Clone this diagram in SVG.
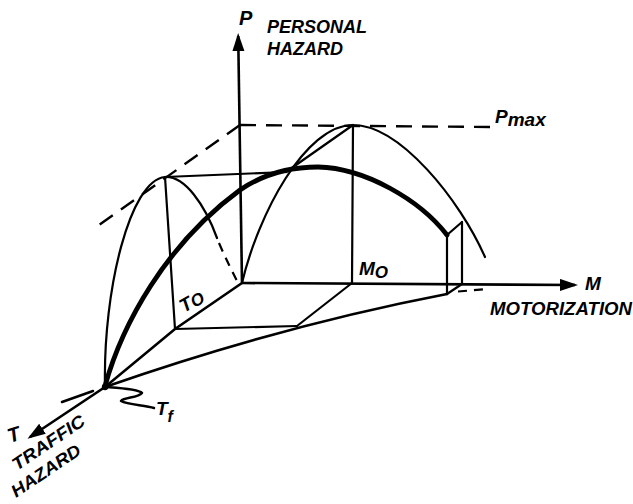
<svg xmlns="http://www.w3.org/2000/svg" width="633" height="504" viewBox="0 0 633 504">
<style>
.ln{fill:none;stroke:#000;stroke-width:2.2;stroke-linecap:round;stroke-linejoin:round}
.ax{fill:none;stroke:#000;stroke-width:2.6}
.heavy{fill:none;stroke:#000;stroke-width:4.8;stroke-linecap:round}
.dash{fill:none;stroke:#000;stroke-width:2.4;stroke-dasharray:16 10}
.sdash{fill:none;stroke:#000;stroke-width:2.2;stroke-dasharray:9 7}
.t{font-family:"Liberation Sans",Arial,sans-serif;font-style:italic;font-weight:bold;fill:#000}
</style>
<defs>
<marker id="arr" markerUnits="userSpaceOnUse" markerWidth="18" markerHeight="14" refX="15" refY="6" orient="auto">
<path d="M0,0 L18,6 L0,12 Z" fill="#000"/>
</marker>
</defs>
<rect width="633" height="504" fill="#fff"/>
<g id="connectors">
<line class="ax" x1="242" y1="283" x2="238.2" y2="36" marker-end="url(#arr)"/>
<line class="ax" x1="242" y1="283" x2="575" y2="285" marker-end="url(#arr)"/>
<polyline class="ax" points="242,283 175,329 105,387 30,437" marker-end="url(#arr)"/>
<line class="dash" x1="240" y1="125" x2="490" y2="127"/>
<line class="dash" x1="240" y1="125" x2="92" y2="230"/>
<line class="ln" x1="175" y1="329" x2="297" y2="326"/>
<line class="ln" x1="352" y1="283" x2="297" y2="326"/>
<path class="ln" d="M105,387 Q280,326 447,294" style="stroke-width:2.5"/>
<line class="ln" x1="62" y1="402" x2="93" y2="391" style="stroke-width:2.5"/>
<line class="sdash" x1="458" y1="291.5" x2="488" y2="289"/>
<line class="ln" x1="165" y1="177" x2="175" y2="329"/>
<line class="ln" x1="353" y1="125" x2="352" y2="283"/>
<line class="ln" x1="165" y1="177" x2="286" y2="172"/>
<line class="ln" x1="286" y1="172" x2="353" y2="125"/>
<line class="ln" x1="447" y1="235" x2="447" y2="294"/>
<line class="ln" x1="462" y1="222" x2="462" y2="284"/>
<line class="ln" x1="447" y1="235" x2="462" y2="222"/>
<line class="ln" x1="447" y1="294" x2="462" y2="284"/>
<path class="ln" d="M105,386 C103,290 130,180 165,177 C185,176 205,205 217,238"/>
<path class="sdash" d="M219,243 C225,257 231,269 237,281"/>
<path class="ln" d="M242,283 C258,215 305,125 353,125 C400,125 460,200 485,257"/>
<path class="heavy" d="M105,386 C122,325 165,245 240,190 C262,175 290,167 318,167 C365,168 420,200 447,235"/>
<path class="ln" d="M105,387 C118,388 138,389 142,393 C138,398 124,397 121,401 C128,405 145,405 154,408" style="stroke-width:2.5"/>
<circle cx="105" cy="387" r="3.2" fill="#000"/>
</g>
<g id="labels">
<text class="t" x="239" y="25" font-size="20">P</text>
<text class="t" x="267" y="33" font-size="17.5" textLength="100" lengthAdjust="spacingAndGlyphs">PERSONAL</text>
<text class="t" x="267" y="55" font-size="17.5" textLength="76" lengthAdjust="spacingAndGlyphs">HAZARD</text>
<text class="t" x="495" y="123" font-size="19">P<tspan dy="3">max</tspan></text>
<text class="t" x="359" y="275" font-size="19">M<tspan font-size="17" dy="3">O</tspan></text>
<text class="t" x="585" y="290" font-size="19">M</text>
<text class="t" x="490" y="315" font-size="17.5" textLength="142" lengthAdjust="spacingAndGlyphs">MOTORIZATION</text>
<text class="t" transform="translate(184,313) rotate(-30)" font-size="19" font-weight="normal">T<tspan font-size="17" dy="1">O</tspan></text>
<text class="t" x="156" y="415" font-size="19" font-weight="normal">T<tspan font-size="16" dy="7">f</tspan></text>
<text class="t" transform="translate(10,443) rotate(-18)" font-size="20" font-weight="normal">T</text>
<text class="t" transform="translate(17,471) rotate(-34)" font-size="17.5" textLength="84" lengthAdjust="spacingAndGlyphs">TRAFFIC</text>
<text class="t" transform="translate(16,498) rotate(-34)" font-size="17.5" textLength="80" lengthAdjust="spacingAndGlyphs">HAZARD</text>
</g>
</svg>
